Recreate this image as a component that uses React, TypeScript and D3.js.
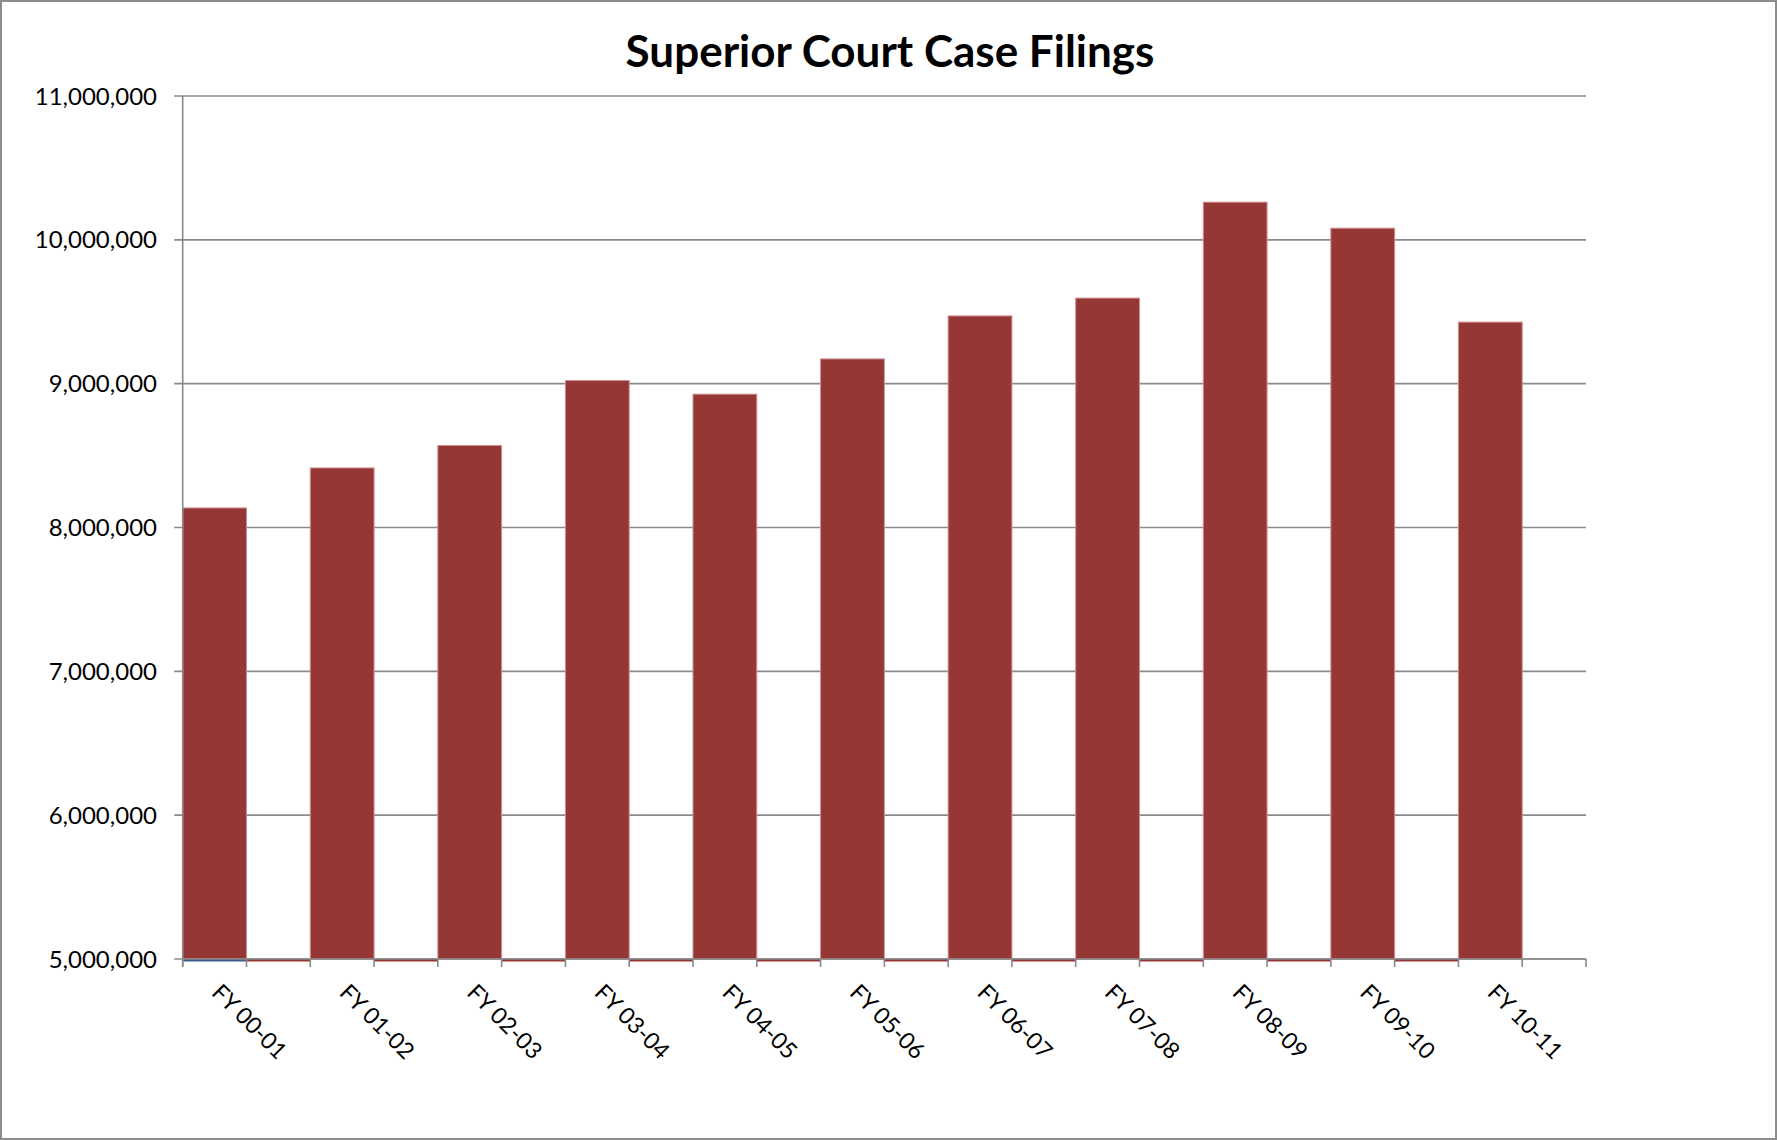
import { useRef, useEffect } from "react";
import * as d3 from "d3";

const chartTitle = "Superior Court Case Filings";

const fiscalYears = [
  "FY 00-01",
  "FY 01-02",
  "FY 02-03",
  "FY 03-04",
  "FY 04-05",
  "FY 05-06",
  "FY 06-07",
  "FY 07-08",
  "FY 08-09",
  "FY 09-10",
  "FY 10-11",
];

// total case filings per fiscal year
const filings = [
  8136000, 8414000, 8570000, 9022000, 8927000, 9172000, 9471000, 9595000, 10262000, 10081000,
  9428000,
];

const yTicks = [5000000, 6000000, 7000000, 8000000, 9000000, 10000000, 11000000];

// each year has an empty slot after it on the category axis
const slots = fiscalYears.flatMap(fy => [fy, fy + " gap"]);

// flat (empty) series that only show as a sliver on the axis
const blueFlatSlots = ["FY 00-01"];
const redFlatSlots = fiscalYears.slice(0, 10).map(fy => fy + " gap");

const App = () => {
  const chartRef = useRef<HTMLDivElement>(null);

  useEffect(() => {
    const el = chartRef.current;
    if (!el) return;

    const W = 1777;
    const H = 1140;
    const left = 182.7;
    const right = 1586;
    const top = 96;
    const bottom = 959;
    const font = "Lato, 'Open Sans', sans-serif";
    const gridColor = "#8a8a8a";

    const svg = d3
      .select(el)
      .append("svg")
      .attr("width", W)
      .attr("height", H)
      .style("position", "absolute")
      .style("left", "0px")
      .style("top", "0px")
      .style("background", "#fff");

    svg
      .append("rect")
      .attr("x", 1)
      .attr("y", 1)
      .attr("width", W - 2)
      .attr("height", H - 2)
      .attr("fill", "#fff")
      .attr("stroke", "#8c8c8c")
      .attr("stroke-width", 2);

    svg
      .append("text")
      .attr("x", 890)
      .attr("y", 67)
      .attr("text-anchor", "middle")
      .attr("font-family", font)
      .attr("font-weight", 700)
      .attr("font-size", 44)
      .attr("fill", "#000")
      .text(chartTitle);

    const x = d3.scaleBand<string>().domain(slots).range([left, right]).padding(0);
    const y = d3.scaleLinear().domain([5000000, 11000000]).range([bottom, top]);

    // gridlines
    svg
      .append("g")
      .selectAll("line")
      .data(yTicks)
      .enter()
      .append("line")
      .attr("x1", left - 8.5)
      .attr("x2", right)
      .attr("y1", d => y(d))
      .attr("y2", d => y(d))
      .attr("stroke", gridColor)
      .attr("stroke-width", 1.6);

    // y labels
    svg
      .append("g")
      .selectAll("text")
      .data(yTicks)
      .enter()
      .append("text")
      .attr("x", 157)
      .attr("y", d => y(d))
      .attr("dy", "0.36em")
      .attr("text-anchor", "end")
      .attr("font-family", font)
      .attr("font-size", 24)
      .attr("fill", "#000")
      .text(d => d3.format(",")(d));

    // bars
    svg
      .append("g")
      .selectAll("rect")
      .data(filings)
      .enter()
      .append("rect")
      .attr("x", (_d, i) => x(fiscalYears[i]) as number)
      .attr("y", d => y(d))
      .attr("width", x.bandwidth())
      .attr("height", d => bottom - y(d))
      .attr("fill", "#953735")
      .attr("stroke", "#cf9190")
      .attr("stroke-width", 1);

    // slivers of the flat series
    svg
      .append("g")
      .selectAll("rect")
      .data(redFlatSlots)
      .enter()
      .append("rect")
      .attr("x", d => x(d) as number)
      .attr("y", y(5000000))
      .attr("width", x.bandwidth())
      .attr("height", 2.5)
      .attr("fill", "#953735");

    svg
      .append("g")
      .selectAll("rect")
      .data(blueFlatSlots)
      .enter()
      .append("rect")
      .attr("x", d => x(d) as number)
      .attr("y", y(5000000))
      .attr("width", x.bandwidth())
      .attr("height", 2.5)
      .attr("fill", "#385d8a");

    // axes
    svg
      .append("line")
      .attr("x1", left)
      .attr("x2", left)
      .attr("y1", top)
      .attr("y2", bottom + 8)
      .attr("stroke", gridColor)
      .attr("stroke-width", 1.6);

    svg
      .append("line")
      .attr("x1", left)
      .attr("x2", right)
      .attr("y1", bottom)
      .attr("y2", bottom)
      .attr("stroke", gridColor)
      .attr("stroke-width", 1.6);

    const tickXs = slots.map(s => x(s) as number).concat([right]);
    svg
      .append("g")
      .selectAll("line")
      .data(tickXs)
      .enter()
      .append("line")
      .attr("x1", d => d)
      .attr("x2", d => d)
      .attr("y1", bottom)
      .attr("y2", bottom + 8)
      .attr("stroke", gridColor)
      .attr("stroke-width", 1.6);

    // x labels, rotated
    svg
      .append("g")
      .selectAll("text")
      .data(fiscalYears)
      .enter()
      .append("text")
      .attr(
        "transform",
        d => `translate(${(x(d) as number) + x.bandwidth() / 2 - 4}, ${bottom + 35}) rotate(45)`
      )
      .attr("font-family", font)
      .attr("font-size", 23)
      .attr("fill", "#000")
      .text(d => d);

    return () => {
      d3.select(el).select("svg").remove();
    };
  }, []);

  return <div ref={chartRef}></div>;
};

export default App;
